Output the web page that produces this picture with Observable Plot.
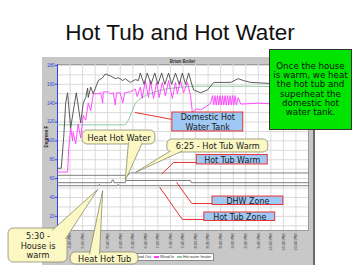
<!DOCTYPE html>
<html><head><meta charset="utf-8">
<script src="https://cdn.jsdelivr.net/npm/d3@7"></script>
<script src="https://cdn.jsdelivr.net/npm/@observablehq/plot@0.6"></script>
<style>
html,body{margin:0;padding:0;background:#fff}
#slide{position:relative;width:360px;height:270px;overflow:hidden;background:#fff;font-family:"DejaVu Sans",sans-serif}
#title{position:absolute;left:0;width:360px;top:21px;text-align:center;font-family:"Liberation Sans",Arial,sans-serif;font-size:22.5px;line-height:24px;color:#111;white-space:nowrap}
#panel{position:absolute;left:42px;top:57px;width:271px;height:208px;background:#c8c8c8;border-right:2px solid #6a6a6a}
#panelTitle{position:absolute;left:57px;width:251px;top:58.5px;text-align:center;font:bold 4.5px "Liberation Sans",sans-serif;color:#333}
#legend{position:absolute;left:122px;top:253px;height:6px;background:#fff;border:0.6px solid #8a8a8a;font:3.8px "Liberation Sans",sans-serif;color:#333;display:flex;align-items:center;padding:0 2px;white-space:nowrap}
#legend .sw{display:inline-block;width:5px;height:1.6px;margin:0 1px 0 3px}
#chart{position:absolute;left:0;top:0}
#note{position:absolute;left:269px;top:49px;width:81px;height:79px;background:#00e400;border:1px solid #333;display:flex;align-items:center;justify-content:center;text-align:center;font-family:"DejaVu Sans",sans-serif;font-size:8.7px;line-height:9.1px;color:#111;white-space:nowrap}
</style></head>
<body>
<div id="slide">
  <div id="panel"></div>
  <div id="panelTitle"></div>
  <div id="legend"></div>
  <div id="chart"></div>
  <div id="title"></div>
  <div id="note"></div>
</div>
<script>
// ---------- texts ----------
const slideTitle = "Hot Tub and Hot Water";
const chartTitle = "Brian Boiler";
const yLabel = "Degrees F";
const noteLines = ["Once the house", "is warm, we heat", "the hot tub and", "superheat the", "domestic hot", "water tank."];

// ---------- axes ----------
const timeDomain = ["16:20", "23:00"];
const xTicks = ["16:40","17:00","17:20","17:40","18:00","18:20","18:40","19:00","19:20","19:40",
                "20:00","20:20","20:40","21:00","21:20","21:40","22:00","22:20","22:40"];
const yTicks = [20, 40, 60, 80, 100, 120, 140, 160, 180];
const yGrid = [10, 20, 30, 40, 50, 60, 70, 80, 90, 100, 110, 120, 130, 140, 150, 160, 170, 180];
const yDomain = [5, 181];

// ---------- series (time, degrees F) ----------
const woodOut = [["16:20",71],["16:26",71],["16:30",105],["16:33",140],["16:36",151],["16:41",114],["16:46",135],
  ["16:50",151],["16:57",119],["17:01",140],["17:05",146],["17:08",156],["17:09",146],["17:13",157],["17:17",150],
  ["17:25",164],["17:32",167],["17:36",171],["17:44",169],["17:52",166],["17:57",167],["18:04",164],["18:08",166],
  ["18:16",162],["18:24",165],["18:29",164],["18:32",172],["18:38",160],["18:43",172],["18:49",160],["18:55",172],
  ["19:00",160],["19:06",172],["19:11",160],["19:17",172],["19:22",160],["19:28",172],["19:34",160],["19:39",172],
  ["19:44",160],["19:49",172],["19:54",160],["19:57",154],["20:08",151],["20:19",154],["20:29",162],["20:56",162],
  ["21:08",166],["21:16",164],["21:28",162],["21:56",161],["22:31",162],["23:00",162]];
const woodIn = [["16:20",67],["16:36",67],["16:38",93],["16:41",114],["16:44",100],["16:45",109],["16:49",97],
  ["16:53",118],["16:57",103],["17:01",127],["17:05",122],["17:09",140],["17:13",132],["17:17",150],["17:24",150],
  ["17:29",151],["17:32",140],["17:33",152],["17:41",152],["17:44",150],["17:49",151],["17:52",138],["17:54",151],
  ["18:00",151],["18:04",140],["18:07",151],["18:16",152],["18:24",155],["18:27",147],["18:32",157],["18:35",145],
  ["18:40",164],["18:45",146],["18:48",164],["18:53",145],["18:58",162],["19:02",146],["19:07",162],["19:12",148],
  ["19:17",164],["19:23",145],["19:28",162],["19:31",150],["19:36",164],["19:41",151],["19:47",162],["19:52",148],
  ["19:55",130],["20:01",134],["20:08",133],["20:16",136],["20:24",140],["20:27",148],["20:29",138],["20:31",148],
  ["20:33",138],["20:35",148],["20:37",138],["20:39",148],["20:41",138],["20:43",148],["20:45",138],["20:47",148],
  ["20:49",138],["20:51",148],["20:53",138],["20:55",148],["20:57",138],["20:59",148],["21:01",138],["21:03",148],
  ["21:05",138],["21:08",146],["21:12",139],["21:40",140],["22:10",139],["22:40",140],["23:00",139]];
const hotWaterHeater = [["16:20",117],["18:08",117],["18:13",122],["18:18",130],["18:24",140],["18:32",145],
  ["18:43",149],["18:56",152],["19:12",155],["19:36",157],["20:00",158],["21:28",158],["23:00",157]];
const hotTubWarm = [["16:20",63.5],["18:12",63.5],["18:16",66],["23:00",66]];
const dhwZone = [["16:20",55.7],["17:46",55.7],["17:47",58.5],["17:49",58.5],["17:50",55.7],["18:08",55.7],
  ["18:09",58],["19:52",58],["19:53",55.7],["23:00",55.7]];
const hotTubZone = [["16:20",52.5],["17:26",52.5],["17:27",54],["17:28",52.5],["17:56",52.5],["17:57",54],
  ["17:58",52.5],["23:00",52.5]];

const seriesNames = ["Wood Out", "Wood In", "Hot water heater"];
const seriesColors = ["#4a4a4a", "#ff3cff", "#8cc9a4"];

// ---------- annotations (in data units: time, degrees F) ----------
const callouts = [
  {text:"Heat Hot Water", box:["17:00","18:56",96.2,111.0], tail:[["18:13",97.8],["18:08",58],["18:35",97.8]]},
  {text:"6:25 - Hot Tub Warm", box:["19:15","21:56",87.7,101.5], tail:[["19:20",89.3],["18:24",66.5],["19:39",89.3]]},
  {text:"5:30 -\nHouse is\nwarm", box:["15:02","16:36",-28.9,7.1], tail:[["16:12",5.5],["17:24",48.5],["16:33",-3.5]]},
  {text:"Heat Hot Tub", box:["16:41","18:29",-31.0,-18.3], tail:[["17:11",-19.9],["17:32",47.4],["17:27",-19.9]]}
];
const labels = [
  {text:"Domestic Hot\nWater Tank", box:["19:23","21:16",110.0,130.1], link:[["18:24",130.1],["19:23",122.7]]},
  {text:"Hot Tub Warm", box:["20:02","21:55",75.0,85.0], link:[["19:07",65.4],["19:25",77.1],["20:02",77.1]]},
  {text:"DHW Zone", box:["20:27","22:20",32.0,41.0], link:[["19:30",55.9],["19:54",33.6],["20:27",33.6]]},
  {text:"Hot Tub Zone", box:["20:14","22:07",15.1,24.1], link:[["19:03",50.6],["19:39",16.7],["20:14",16.7]]}
];

// ---------- build ----------
const P = d3.timeParse("%H:%M");
const rows = arr => arr.map(([t, v]) => ({t: P(t), v}));
const mid = (a, b) => new Date((P(a).getTime() + P(b).getTime()) / 2);

document.getElementById("title").textContent = slideTitle;
document.getElementById("panelTitle").textContent = chartTitle;
document.getElementById("note").innerHTML = noteLines.join("<br>");
const legend = document.getElementById("legend");
seriesNames.forEach((n, i) => {
  const sw = document.createElement("span"); sw.className = "sw"; sw.style.background = seriesColors[i];
  legend.appendChild(sw);
  legend.appendChild(document.createTextNode(n));
});

const boxRows = list => list.map(d => ({x1: P(d.box[0]), x2: P(d.box[1]), y1: d.box[2], y2: d.box[3],
  cx: mid(d.box[0], d.box[1]), cy: (d.box[2] + d.box[3]) / 2, text: d.text}));
const pathRows = (list, key) => list.flatMap((d, i) => d[key].map(([t, v]) => ({t: P(t), v, id: i})));

const blue = "#3344dd";
const chart = Plot.plot({
  width: 360, height: 270,
  marginLeft: 57, marginRight: 52, marginTop: 64, marginBottom: 40,
  style: {background: "transparent", overflow: "visible", fontFamily: "Liberation Sans, Arial, sans-serif"},
  x: {type: "time", domain: timeDomain.map(P)},
  y: {domain: yDomain},
  marks: [
    Plot.frame({fill: "white", stroke: "#9a9a9a"}),
    Plot.gridX(xTicks.map(P), {stroke: "#dadada", strokeOpacity: 1}),
    Plot.gridY(yGrid, {stroke: "#dadada", strokeOpacity: 1}),
    Plot.axisX(xTicks.map(P), {tickRotate: -90, tickFormat: d3.timeFormat("%-I:%M %p"), fontSize: 4,
      tickSize: 0, tickPadding: 3, fill: "#333", label: null}),
    Plot.axisY(yTicks, {fontSize: 4.5, tickSize: 2, tickPadding: 1, stroke: blue, fill: blue, label: null}),
    Plot.ruleX([P(timeDomain[0])], {stroke: blue}),
    Plot.text([yLabel], {frameAnchor: "left", dx: -11, rotate: -90, fontSize: 4.5, fontWeight: "bold", fill: "#222"}),
    Plot.line(rows(hotTubZone), {x: "t", y: "v", stroke: "#707070", strokeWidth: 0.9}),
    Plot.line(rows(dhwZone), {x: "t", y: "v", stroke: "#707070", strokeWidth: 0.9}),
    Plot.line(rows(hotTubWarm), {x: "t", y: "v", stroke: "#707070", strokeWidth: 0.9}),
    Plot.line(rows(hotWaterHeater), {x: "t", y: "v", stroke: seriesColors[2], strokeWidth: 1}),
    Plot.line(rows(woodIn), {x: "t", y: "v", stroke: seriesColors[1], strokeWidth: 0.9}),
    Plot.line(rows(woodOut), {x: "t", y: "v", stroke: seriesColors[0], strokeWidth: 0.9}),
    // blue labels with red connectors
    Plot.line(pathRows(labels, "link"), {x: "t", y: "v", z: "id", stroke: "#e83333", strokeWidth: 1}),
    Plot.rect(boxRows(labels), {x1: "x1", x2: "x2", y1: "y1", y2: "y2", fill: "#9fc8f4", stroke: "#e83333", strokeWidth: 1}),
    Plot.text(boxRows(labels), {x: "cx", y: "cy", text: "text", fontSize: 8, lineHeight: 1.2, fill: "#1a1a1a",
      fontFamily: "DejaVu Sans, sans-serif"}),
    // speech-bubble callouts
    Plot.rect(boxRows(callouts), {x1: "x1", x2: "x2", y1: "y1", y2: "y2", rx: 5, fill: "#fbf8c4", stroke: "#8a8a70", strokeWidth: 0.8}),
    Plot.line(pathRows(callouts, "tail"), {x: "t", y: "v", z: "id", fill: "#fbf8c4", stroke: "#8a8a70", strokeWidth: 0.8}),
    Plot.text(boxRows(callouts), {x: "cx", y: "cy", text: "text", fontSize: 8.2, lineHeight: 1.2, fill: "#1a1a1a",
      fontFamily: "DejaVu Sans, sans-serif"})
  ]
});
document.getElementById("chart").appendChild(chart);
</script>
</body></html>
